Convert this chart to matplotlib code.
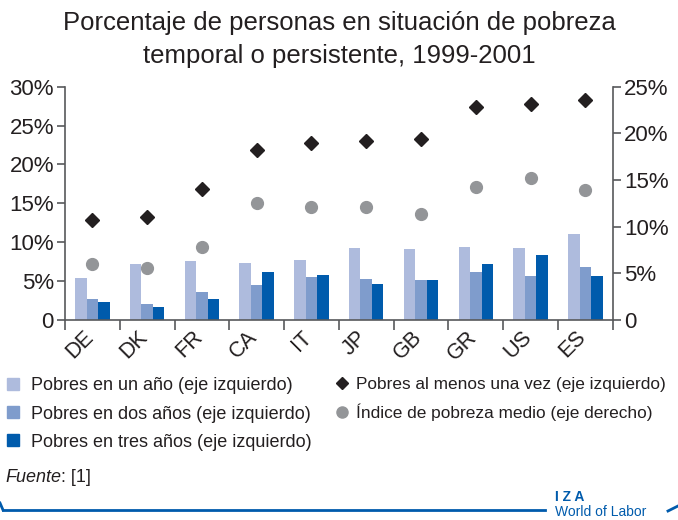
import matplotlib
matplotlib.use("Agg")
import matplotlib.pyplot as plt
import matplotlib.transforms as mtransforms
from matplotlib.lines import Line2D
import numpy as np

plt.rcParams['font.family'] = ['Liberation Sans', 'DejaVu Sans']

paises = ["DE", "DK", "FR", "CA", "IT", "JP", "GB", "GR", "US", "ES"]
un_anio = [5.4, 7.2, 7.6, 7.35, 7.7, 9.25, 9.15, 9.4, 9.25, 11.05]
dos_anios = [2.7, 2.05, 3.6, 4.5, 5.5, 5.25, 5.15, 6.15, 5.65, 6.8]
tres_anios = [2.3, 1.65, 2.7, 6.15, 5.8, 4.65, 5.15, 7.2, 8.35, 5.65]
al_menos_una = [12.8, 13.2, 16.8, 21.8, 22.8, 23.05, 23.3, 27.4, 27.8, 28.3]
indice_medio = [6.05, 5.55, 7.8, 12.5, 12.15, 12.15, 11.4, 14.3, 15.2, 13.95]

c_claro = "#aebbdd"
c_medio = "#7f9ccc"
c_oscuro = "#005bac"
c_diamante = "#231f20"
c_circulo = "#939598"
c_texto = "#231f20"
c_eje = "#58595b"

fig = plt.figure(figsize=(6.78, 5.2), dpi=100)
ax = fig.add_axes([65 / 678, 1 - 320 / 520, (612.7 - 65) / 678, (320 - 86.7) / 520])
ax2 = ax.twinx()

x = np.arange(len(paises))
w = 0.21
ax.bar(x - w, un_anio, w, color=c_claro, zorder=2)
ax.bar(x, dos_anios, w, color=c_medio, zorder=2)
ax.bar(x + w, tres_anios, w, color=c_oscuro, zorder=2)
ax.plot(x, al_menos_una, linestyle="none", marker="D", markersize=7.5,
        color=c_diamante, zorder=3)
ax2.plot(x, indice_medio, linestyle="none", marker="o", markersize=8.5,
         color=c_circulo, zorder=3)

ax.set_xlim(-0.5, len(paises) - 0.5)
ax.set_ylim(0, 30)
ax2.set_ylim(0, 25)
ax.set_yticks(range(0, 31, 5))
ax.set_yticklabels(["0"] + [f"{v}%" for v in range(5, 31, 5)])
ax2.set_yticks(range(0, 26, 5))
ax2.set_yticklabels(["0"] + [f"{v}%" for v in range(5, 26, 5)])

ax.set_xticks(x)
ax.set_xticklabels(paises, rotation=45, ha="right", fontsize=15.5, color=c_texto)
ax.tick_params(axis="x", length=0, pad=5)
desplazar = mtransforms.ScaledTranslation(5 / 100, 0, fig.dpi_scale_trans)
for lbl in ax.get_xticklabels():
    lbl.set_transform(lbl.get_transform() + desplazar)
ax.set_xticks(np.arange(-0.5, len(paises), 1), minor=True)
ax.tick_params(axis="x", which="minor", length=7, width=1.2, color=c_eje)

for a in (ax, ax2):
    a.spines["top"].set_visible(False)
    for s in ("left", "right", "bottom"):
        a.spines[s].set_color(c_eje)
        a.spines[s].set_linewidth(1.2)
    a.tick_params(axis="y", labelsize=16, labelcolor=c_texto, color=c_eje,
                  length=6, width=1.2, pad=2)
ax.spines["right"].set_visible(False)
ax2.spines["left"].set_visible(False)
ax2.spines["bottom"].set_visible(False)

fig.text(0.5, 1 - 11 / 520,
         "Porcentaje de personas en situación de pobreza\ntemporal o persistente, 1999-2001",
         ha="center", va="top", fontsize=18.5, color=c_texto, linespacing=1.45)

# leyenda
h_izq = [Line2D([], [], linestyle="none", marker="s", markersize=8, color=c)
         for c in (c_claro, c_medio, c_oscuro)]
l_izq = ["Pobres en un año (eje izquierdo)",
         "Pobres en dos años (eje izquierdo)",
         "Pobres en tres años (eje izquierdo)"]
leg1 = fig.legend(h_izq, l_izq, loc="upper left", bbox_to_anchor=(0, 1 - 372 / 520),
                  frameon=False, fontsize=13, handlelength=0.8, handletextpad=0.6,
                  labelspacing=0.62, borderaxespad=0, borderpad=0.3)
h_der = [Line2D([], [], linestyle="none", marker="D", markersize=6, color=c_diamante),
         Line2D([], [], linestyle="none", marker="o", markersize=8, color=c_circulo)]
l_der = ["Pobres al menos una vez (eje izquierdo)",
         "Índice de pobreza medio (eje derecho)"]
leg2 = fig.legend(h_der, l_der, loc="upper left", bbox_to_anchor=(330 / 678, 1 - 372 / 520),
                  frameon=False, fontsize=12.4, handlelength=0.8, handletextpad=0.4,
                  labelspacing=0.68, borderaxespad=0, borderpad=0.3)
for t in leg1.get_texts() + leg2.get_texts():
    t.set_color(c_texto)

fuente = fig.text(5 / 678, 1 - 478 / 520, "Fuente", style="italic", fontsize=13,
                  color=c_texto, va="center")
fig.add_artist(plt.Annotation(": [1]", xy=(1, 0.5), xycoords=fuente, va="center",
                              fontsize=13, color=c_texto))

# marco inferior y logo
fig.add_artist(Line2D([3 / 678, 545 / 678], [1 - 510 / 520, 1 - 510 / 520],
                      color=c_oscuro, linewidth=2, transform=fig.transFigure))
fig.add_artist(Line2D([0, 3 / 678], [1 - 503 / 520, 1 - 510 / 520],
                      color=c_oscuro, linewidth=2, transform=fig.transFigure))
fig.add_artist(Line2D([668 / 678, 678 / 678], [1 - 511 / 520, 1 - 506 / 520],
                      color=c_oscuro, linewidth=2, transform=fig.transFigure))
fig.text(555 / 678, 1 - 497 / 520, "I Z A", fontsize=10, fontweight="bold",
         color=c_oscuro, va="center")
fig.text(555 / 678, 1 - 512 / 520, "World of Labor", fontsize=10,
         color=c_oscuro, va="center")

fig.savefig("out.png", dpi=100)
